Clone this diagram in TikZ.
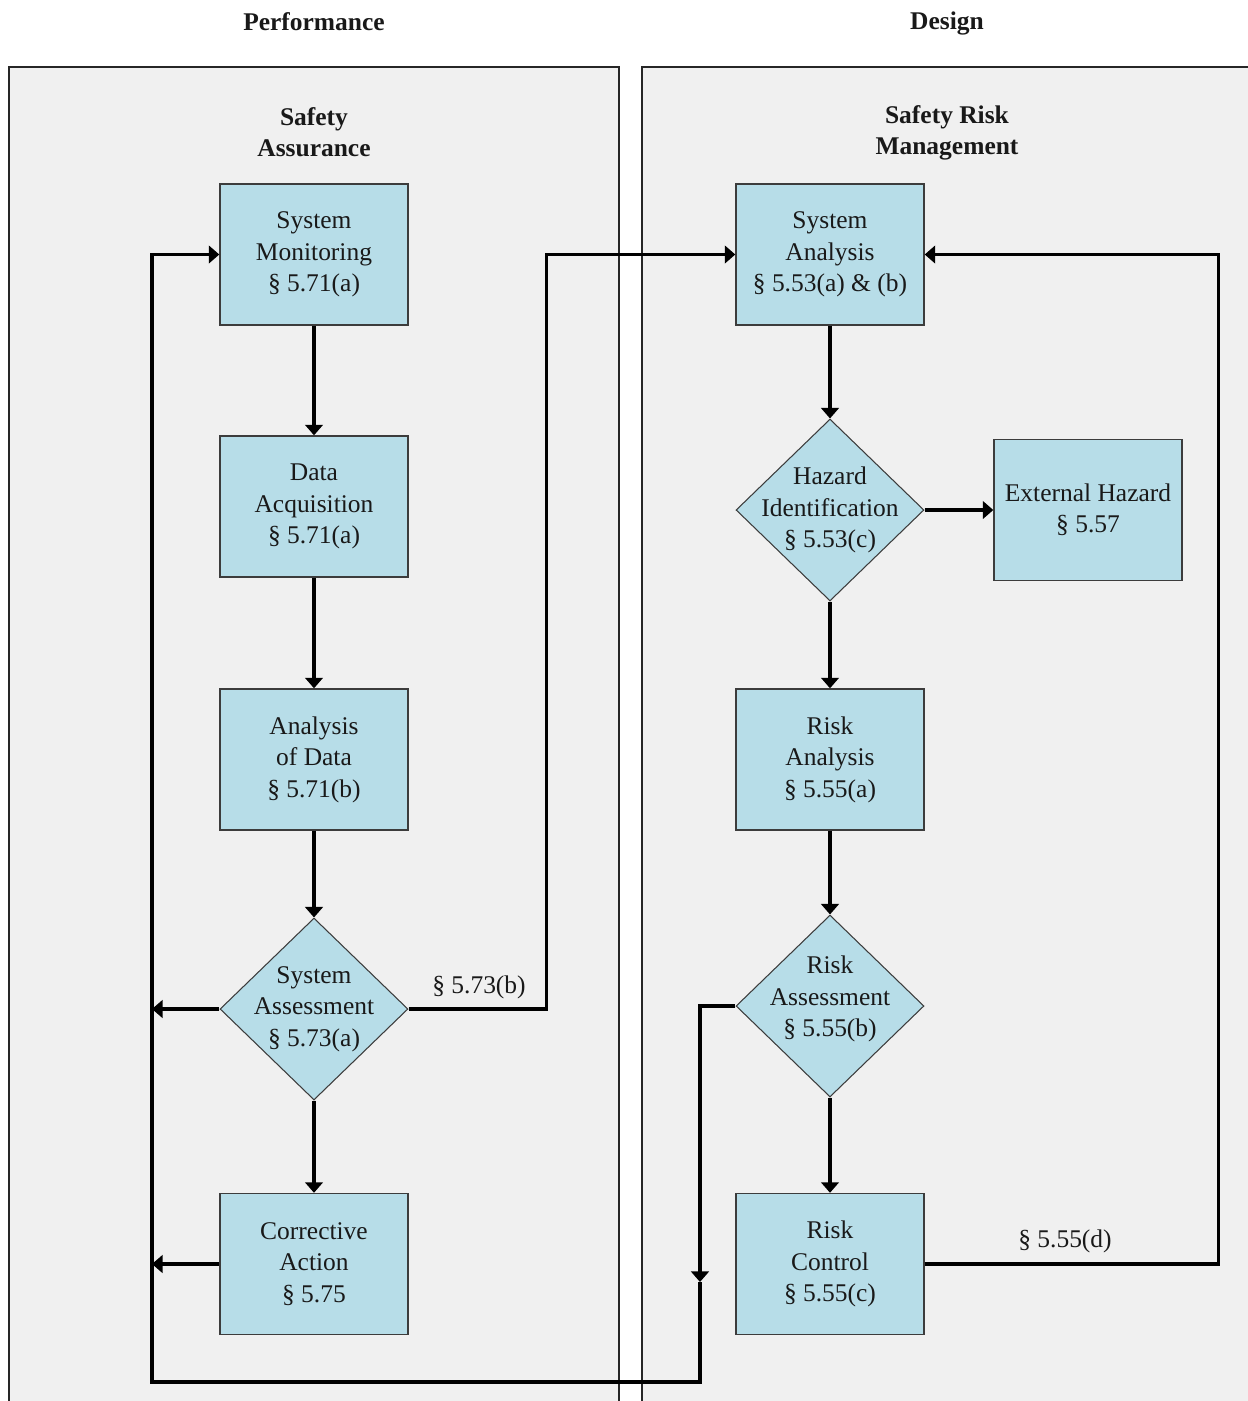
\documentclass[tikz,border=0pt]{standalone}
\usepackage{fontspec}
\setmainfont{Liberation Serif}
\usetikzlibrary{arrows.meta}
\usetikzlibrary{shapes.geometric}
\usetikzlibrary{positioning}

\definecolor{boxblue}{HTML}{B7DDE8}
\definecolor{panelgray}{HTML}{F0F0F0}
\definecolor{edgegray}{HTML}{3C3C3C}

\begin{document}
\begin{tikzpicture}[
    x=0.02cm, y=-0.02cm,
    every node/.style={font=\fontsize{14.5}{17.9}\selectfont, text=black!90},
    panel/.style={draw=black!85, line width=0.8pt, fill=panelgray},
    heading/.style={font=\fontsize{14.5}{17.9}\selectfont\bfseries, align=center},
    process/.style={rectangle, draw=edgegray, fill=boxblue, line width=0.8pt, minimum width=3.76cm, minimum height=2.82cm, align=center, inner sep=0pt},
    decision/.style={diamond, draw=edgegray, fill=boxblue, line width=0.6pt, minimum width=3.76cm, minimum height=3.64cm, inner sep=0pt},
    line/.style={line width=1.8pt},
    >={Triangle[length=6pt, width=10pt]}
]
\useasboundingbox (0,0) rectangle (1248,1401);
\clip (0,0) rectangle (1248,1401);

% --- Panels ---
\draw[panel] (9,67) rectangle (619,1420);
\draw[panel] (642,67) rectangle (1260,1420);

% --- Headings ---
\node[heading] (perf) at (314,22) {Performance};
\node[heading] (des) at (947,23) {Design};
\node[heading] (sahead) at (314,132) {Safety\\Assurance};
\node[heading] (srmhead) at (947,133) {Safety Risk\\Management};

% --- Safety assurance column ---
\node[process] (smon) at (314,254.5) {System\\Monitoring\\§ 5.71(a)};
\node[process] (dacq) at (314,506.5) {Data\\Acquisition\\§ 5.71(a)};
\node[process] (adata) at (314,759.5) {Analysis\\of Data\\§ 5.71(b)};
\node[decision, label={[align=center]center:{System\\Assessment\\§ 5.73(a)}}] (sassess) at (314,1009) {};
\node[process] (caction) at (314,1264) {Corrective\\Action\\§ 5.75};

% --- Safety risk management column ---
\node[process] (sysan) at (830,254.5) {System\\Analysis\\§ 5.53(a) \& (b)};
\node[decision, label={[align=center]center:{Hazard\\Identification\\§ 5.53(c)}}] (hazid) at (830,510) {};
\node[process] (exthaz) at (1088,510) {External Hazard\\§ 5.57};
\node[process] (ranal) at (830,759.5) {Risk\\Analysis\\§ 5.55(a)};
\node[decision, label={[align=center, yshift=4pt]center:{Risk\\Assessment\\§ 5.55(b)}}] (rassess) at (830,1006) {};
\node[process] (rctrl) at (830,1264) {Risk\\Control\\§ 5.55(c)};

% --- Column flows ---
\foreach \a/\b in {smon/dacq, dacq/adata, adata/sassess, sassess/caction, sysan/hazid, hazid/ranal, ranal/rassess, rassess/rctrl}
{
    \draw[line,->] (\a.south) -- (\b.north);
}
\draw[line,->] (hazid.east) -- (exthaz.west);

% --- Cross links ---
\draw[line,->] (sassess.east) -- ++(138,0) |- (sysan.west);
\node (lblb) at (479,987) {§ 5.73(b)};
\draw[line,->] (rctrl.east) -- ++(294,0) |- (sysan.east);
\node (lbld) at (1065,1241) {§ 5.55(d)};

% --- Feedback loop ---
\coordinate (loopdown) at (700,1282);
\coordinate (loopleft) at (152,1382);
\draw[line,->] (rassess.west) -| (loopdown);
\draw[line,->] (loopdown) |- (loopleft) |- (smon.west);
\draw[line,->] (sassess.west) -- (sassess.west -| loopleft);
\draw[line,->] (caction.west) -- (caction.west -| loopleft);

\end{tikzpicture}
\end{document}
